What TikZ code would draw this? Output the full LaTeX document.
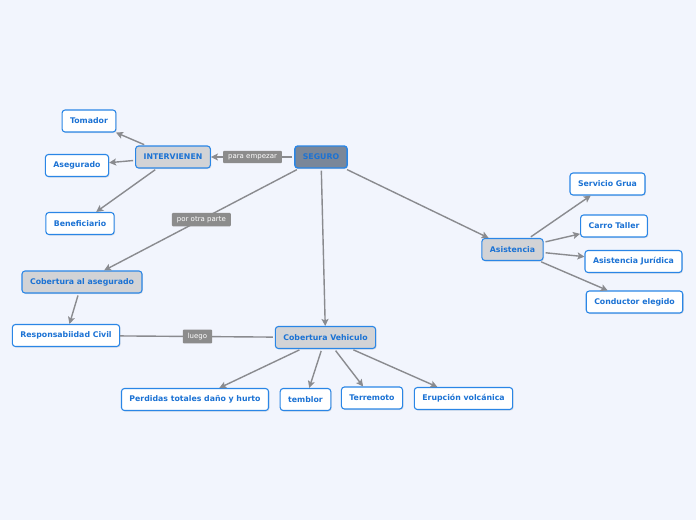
\documentclass[tikz,border=0pt]{standalone}
\usepackage{fontspec}
\setmainfont{DejaVu Sans}
\usetikzlibrary{arrows.meta, shadows}
\usepackage{xcolor}
\definecolor{mpback}{HTML}{F2F5FD}
\definecolor{mpblue}{HTML}{2A86E6}
\definecolor{mptext}{HTML}{1B72D4}
\definecolor{mpcentre}{HTML}{7A8799}
\definecolor{mpgray}{HTML}{D2D3D6}
\definecolor{mplabel}{HTML}{8C8C8C}
\definecolor{mpline}{HTML}{8A8B8F}

\begin{document}
\begin{tikzpicture}[x=1pt, y=-1pt,
    topic/.style={rectangle, rounded corners=3pt, draw=mpblue, fill=#1, line width=1.1pt,
                  minimum height=22pt, inner xsep=8pt, text=mptext,
                  font=\fontsize{7.8}{9}\selectfont\bfseries,
                  drop shadow={opacity=0.18, shadow xshift=1pt, shadow yshift=-1pt}},
    topic/.default=white,
    linklabel/.style={rectangle, rounded corners=1pt, fill=mplabel, text=white,
                      inner xsep=5pt, inner ysep=3.5pt, font=\fontsize{7}{8}\selectfont},
    link/.style={line width=1.4pt, draw=mpline, shorten <=2pt},
    arrow/.style={link, -{Stealth[length=7pt, width=7pt, inset=1.5pt]}}
  ]
    \useasboundingbox[fill=mpback] (0,0) rectangle (696,520);

    % centre and main branches
    \node[topic=mpcentre, line width=1.4pt] (seguro) at (321,157) {SEGURO};
    \node[topic=mpgray] (intervienen) at (173,157) {INTERVIENEN};
    \node[topic=mpgray] (cobasegurado) at (82,282) {Cobertura al asegurado};
    \node[topic=mpgray] (cobvehiculo) at (325.5,337.5) {Cobertura Vehiculo};
    \node[topic=mpgray] (asistencia) at (512.5,249.5) {Asistencia};

    % leaves
    \node[topic] (tomador) at (89,121) {Tomador};
    \node[topic] (asegurado) at (77,165.5) {Asegurado};
    \node[topic] (beneficiario) at (80,223.5) {Beneficiario};
    \node[topic] (respcivil) at (66,335.5) {Responsabiidad Civil};
    \node[topic] (perdidas) at (195,399.5) {Perdidas totales daño y hurto};
    \node[topic] (temblor) at (305.5,399.5) {temblor};
    \node[topic] (terremoto) at (372,398) {Terremoto};
    \node[topic] (erupcion) at (463.5,398.5) {Erupción volcánica};
    \node[topic] (grua) at (607.5,184) {Servicio Grua};
    \node[topic] (taller) at (614,226) {Carro Taller};
    \node[topic] (juridica) at (633.5,261.5) {Asistencia Jurídica};
    \node[topic] (conductor) at (634.5,302) {Conductor elegido};

    \draw[arrow] (seguro) -- node[linklabel] {para empezar} (intervienen);
    \draw[arrow] (seguro) -- node[linklabel] {por otra parte} (cobasegurado);
    \draw[arrow] (seguro) -- (cobvehiculo);
    \draw[arrow] (seguro) -- (asistencia);

    \draw[arrow] (intervienen) -- (tomador);
    \draw[arrow] (intervienen) -- (asegurado);
    \draw[arrow] (intervienen) -- (beneficiario);

    \draw[arrow] (cobasegurado) -- (respcivil);
    \draw[link] (cobvehiculo) -- node[linklabel] {luego} (respcivil);

    \draw[arrow] (cobvehiculo) -- (perdidas);
    \draw[arrow] (cobvehiculo) -- (temblor);
    \draw[arrow] (cobvehiculo) -- (terremoto);
    \draw[arrow] (cobvehiculo) -- (erupcion);

    \draw[arrow] (asistencia) -- (grua);
    \draw[arrow] (asistencia) -- (taller);
    \draw[arrow] (asistencia) -- (juridica);
    \draw[arrow] (asistencia) -- (conductor);
  \end{tikzpicture}
\end{document}
